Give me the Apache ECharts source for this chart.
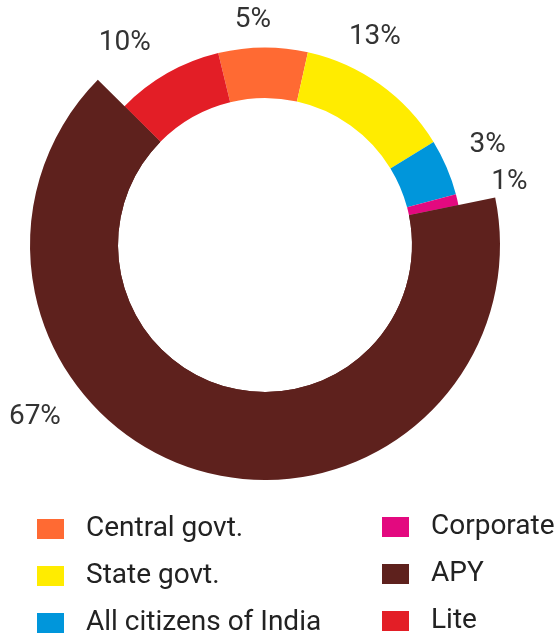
<!DOCTYPE html>
<html>
<head>
<meta charset="utf-8">
<script src="https://cdn.jsdelivr.net/npm/echarts@6/dist/echarts.min.js"></script>
<style>
  html, body { margin: 0; padding: 0; background: #ffffff; }
  #chart { width: 556px; height: 635px; }
</style>
</head>
<body>
<div id="chart"></div>
<script>
// Data (slice sizes; label texts as printed)
const categories = ['Central govt.', 'State govt.', 'All citizens of India', 'Corporate', 'APY', 'Lite'];
const values = [7.3, 12.8, 4.6, 0.9, 65.7, 8.8];
const labelTexts = ['5%', '13%', '3%', '1%', '67%', '10%'];
const colors = ['#FF6A33', '#FFEC00', '#0096DB', '#E3097F', '#5E211D', '#E31E26'];
const highlighted = 'APY';

// label nudges (styling)
const labelNudge = [[8, -28], [-31, -47], [23, -22], [34, -18], [-148, -17], [-17, -30]];

const chart = echarts.init(document.getElementById('chart'), null, { renderer: 'canvas' });

const baseData = categories.map((name, i) => ({
  name: name,
  value: values[i],
  itemStyle: { color: colors[i] },
  label: { formatter: labelTexts[i] }
}));

const bigData = categories.map((name, i) => ({
  name: name,
  value: values[i],
  itemStyle: name === highlighted ? { color: colors[i] } : { color: 'rgba(0,0,0,0)' }
}));

const legendText = {
  fontFamily: 'Roboto',
  fontSize: 28,
  lineHeight: 27,
  color: '#222222',
  padding: [0, 0, 0, 17]
};

function makeLegend(names, left, top) {
  return {
    data: names,
    orient: 'vertical',
    left: left,
    top: top,
    height: 200,
    padding: 0,
    itemWidth: 27,
    itemHeight: 20,
    itemGap: 19,
    icon: 'rect',
    textStyle: legendText,
    selectedMode: false
  };
}

const option = {
  animation: false,
  legend: [
    makeLegend(categories.slice(0, 3), 37, 515),
    makeLegend(categories.slice(3), 382, 513)
  ],
  series: [
    {
      type: 'pie',
      center: [265, 245],
      radius: [147, 197.5],
      startAngle: 103.7,
      clockwise: true,
      avoidLabelOverlap: false,
      data: baseData,
      label: {
        show: true,
        position: 'outside',
        fontFamily: 'Roboto',
        fontSize: 28,
        color: '#333333',
        distanceToLabelLine: 0
      },
      labelLine: { show: false, length: 0, length2: 0 },
      labelLayout: function (params) {
        const n = labelNudge[params.dataIndex];
        return { dx: n[0], dy: n[1], hideOverlap: false };
      },
      emphasis: { disabled: true }
    },
    {
      type: 'pie',
      center: [265, 245],
      radius: [147, 235],
      startAngle: 103.7,
      clockwise: true,
      silent: true,
      data: bigData,
      label: { show: false },
      labelLine: { show: false },
      emphasis: { disabled: true }
    }
  ]
};

chart.setOption(option);
</script>
</body>
</html>
